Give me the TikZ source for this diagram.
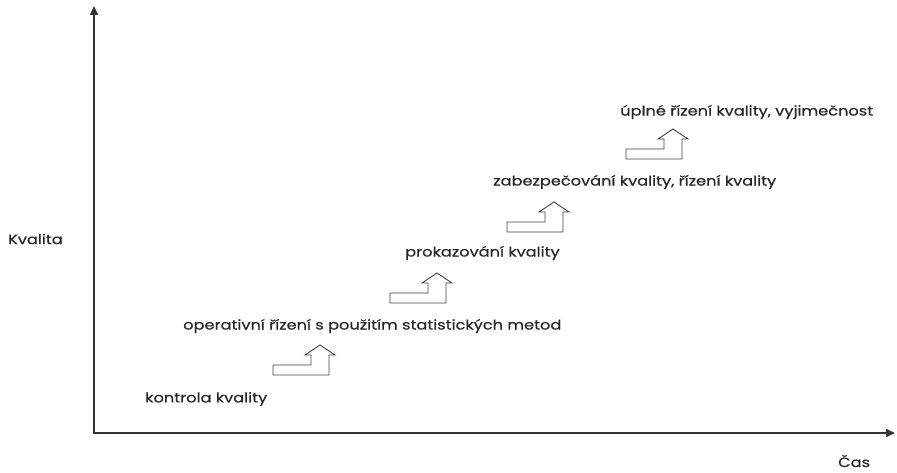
\documentclass[tikz,border=0pt]{standalone}
\usepackage{fontspec}
\setmainfont{Poppins}[FakeStretch=1.2,FakeBold=0.4]
\usetikzlibrary{arrows.meta}
\tikzset{
  axis/.style={draw=black!80, line width=1.6pt, -{Triangle[length=9pt,width=8pt]}},
  lbl/.style={inner sep=0pt, anchor=west, font=\fontsize{13.5}{16}\selectfont, text=black!85},
  stepup/.pic={\draw[black!75, line width=0.9pt, line join=miter]
     (0,0) -- (56,0) -- (56,-20) -- (62,-20) -- (47,-30) -- (32,-20) -- (38,-20) -- (38,-10) -- (0,-10) -- cycle;}
}
\begin{document}
\begin{tikzpicture}[x=1pt,y=-1pt]
\useasboundingbox (0,0) rectangle (897,473);
\coordinate (O) at (94,433);
\coordinate (ytop) at (94,6);
\coordinate (xend) at (895,433);
\draw[axis] (O) -- (ytop);
\draw[axis] ([xshift=-0.8pt]O) -- (xend);
\node[lbl] (kval) at (8,239) {Kvalita};
\node[lbl] (cas) at (838,461) {Čas};
\node[lbl] (l1) at (145,399) {kontrola kvality};
\node[lbl] (l2) at (183,326) {operativní řízení s použitím statistických metod};
\node[lbl] (l3) at (405,253) {prokazování kvality};
\node[lbl] (l4) at (493,182) {zabezpečování kvality, řízení kvality};
\node[lbl] (l5) at (620,112) {úplné řízení kvality, vyjimečnost};
\pic at (273,375) {stepup};
\pic at (390,303) {stepup};
\pic at (507,232) {stepup};
\pic at (626,159) {stepup};
\end{tikzpicture}
\end{document}
